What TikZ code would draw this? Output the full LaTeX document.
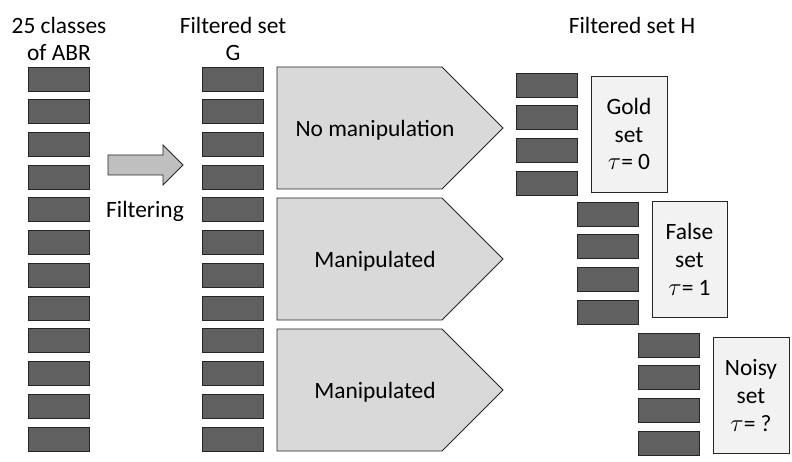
\documentclass[tikz,border=0pt]{standalone}
\usepackage{fontspec}
\setmainfont{Carlito}
\definecolor{barfill}{RGB}{96,96,96}
\definecolor{pentfill}{RGB}{217,217,217}
\definecolor{boxfill}{RGB}{242,242,242}
\definecolor{arrowfill}{RGB}{191,191,191}
\definecolor{edgecol}{RGB}{38,38,38}
\begin{document}
\begin{tikzpicture}[x=1bp,y=-1bp,
  bar/.style={draw=edgecol,line width=0.9bp,fill=barfill,minimum width=61bp,minimum height=24bp,inner sep=0pt},
  pent/.style={draw=edgecol,line width=0.9bp,fill=pentfill},
  setbox/.style={draw=edgecol,line width=0.8bp,fill=boxfill,minimum width=76bp,minimum height=116bp,inner sep=0pt,align=center},
  lbl/.style={font=\fontsize{23.5}{28}\selectfont,align=center,inner sep=0pt}]
\useasboundingbox (0,0) rectangle (792,462);
% titles
\node[lbl] (t1) at (59,39) {25 classes\\of ABR};
\node[lbl] (t2) at (233,39) {Filtered set\\G};
\node[lbl] (t3) at (632,25) {Filtered set H};
% left column
\foreach \i in {0,...,11} \node[bar] (a\i) at (58.5,{79+\i*32.73}) {};
% G column
\foreach \i in {0,...,11} \node[bar] (g\i) at (232.5,{79+\i*32.73}) {};
% filtering arrow
\draw[draw=edgecol,line width=0.9bp,fill=arrowfill] (108,155)--(163,155)--(163,145)--(183,165)--(163,185)--(163,175)--(108,175)--cycle;
\node[lbl] (filt) at (145,211) {Filtering};
% pentagons
\draw[pent] (277,67)--(442,67)--(503,128)--(442,189)--(277,189)--cycle;
\draw[pent] (277,198)--(442,198)--(503,259)--(442,320)--(277,320)--cycle;
\draw[pent] (277,329)--(442,329)--(503,390)--(442,451)--(277,451)--cycle;
\node[lbl] (p1) at (375,130) {No manipulation};
\node[lbl] (p2) at (375,261) {Manipulated};
\node[lbl] (p3) at (375,392) {Manipulated};
% H groups
\foreach \i in {0,...,3} \node[bar] (h\i) at (547,{85+\i*32.7}) {};
\foreach \i in {0,...,3} \node[bar] (f\i) at (608,{214+\i*32.7}) {};
\foreach \i in {0,...,3} \node[bar] (n\i) at (668.5,{345+\i*32.7}) {};
% set boxes
\node[setbox,font=\fontsize{23.5}{28}\selectfont] (gold) at (629,134) {Gold\\set\\$\tau$= 0};
\node[setbox,font=\fontsize{23.5}{28}\selectfont,minimum width=75bp] (false) at (689.5,259) {False\\set\\$\tau$= 1};
\node[setbox,font=\fontsize{23.5}{28}\selectfont] (noisy) at (751,395.5) {Noisy\\set\\$\tau$= ?};
\end{tikzpicture}
\end{document}
